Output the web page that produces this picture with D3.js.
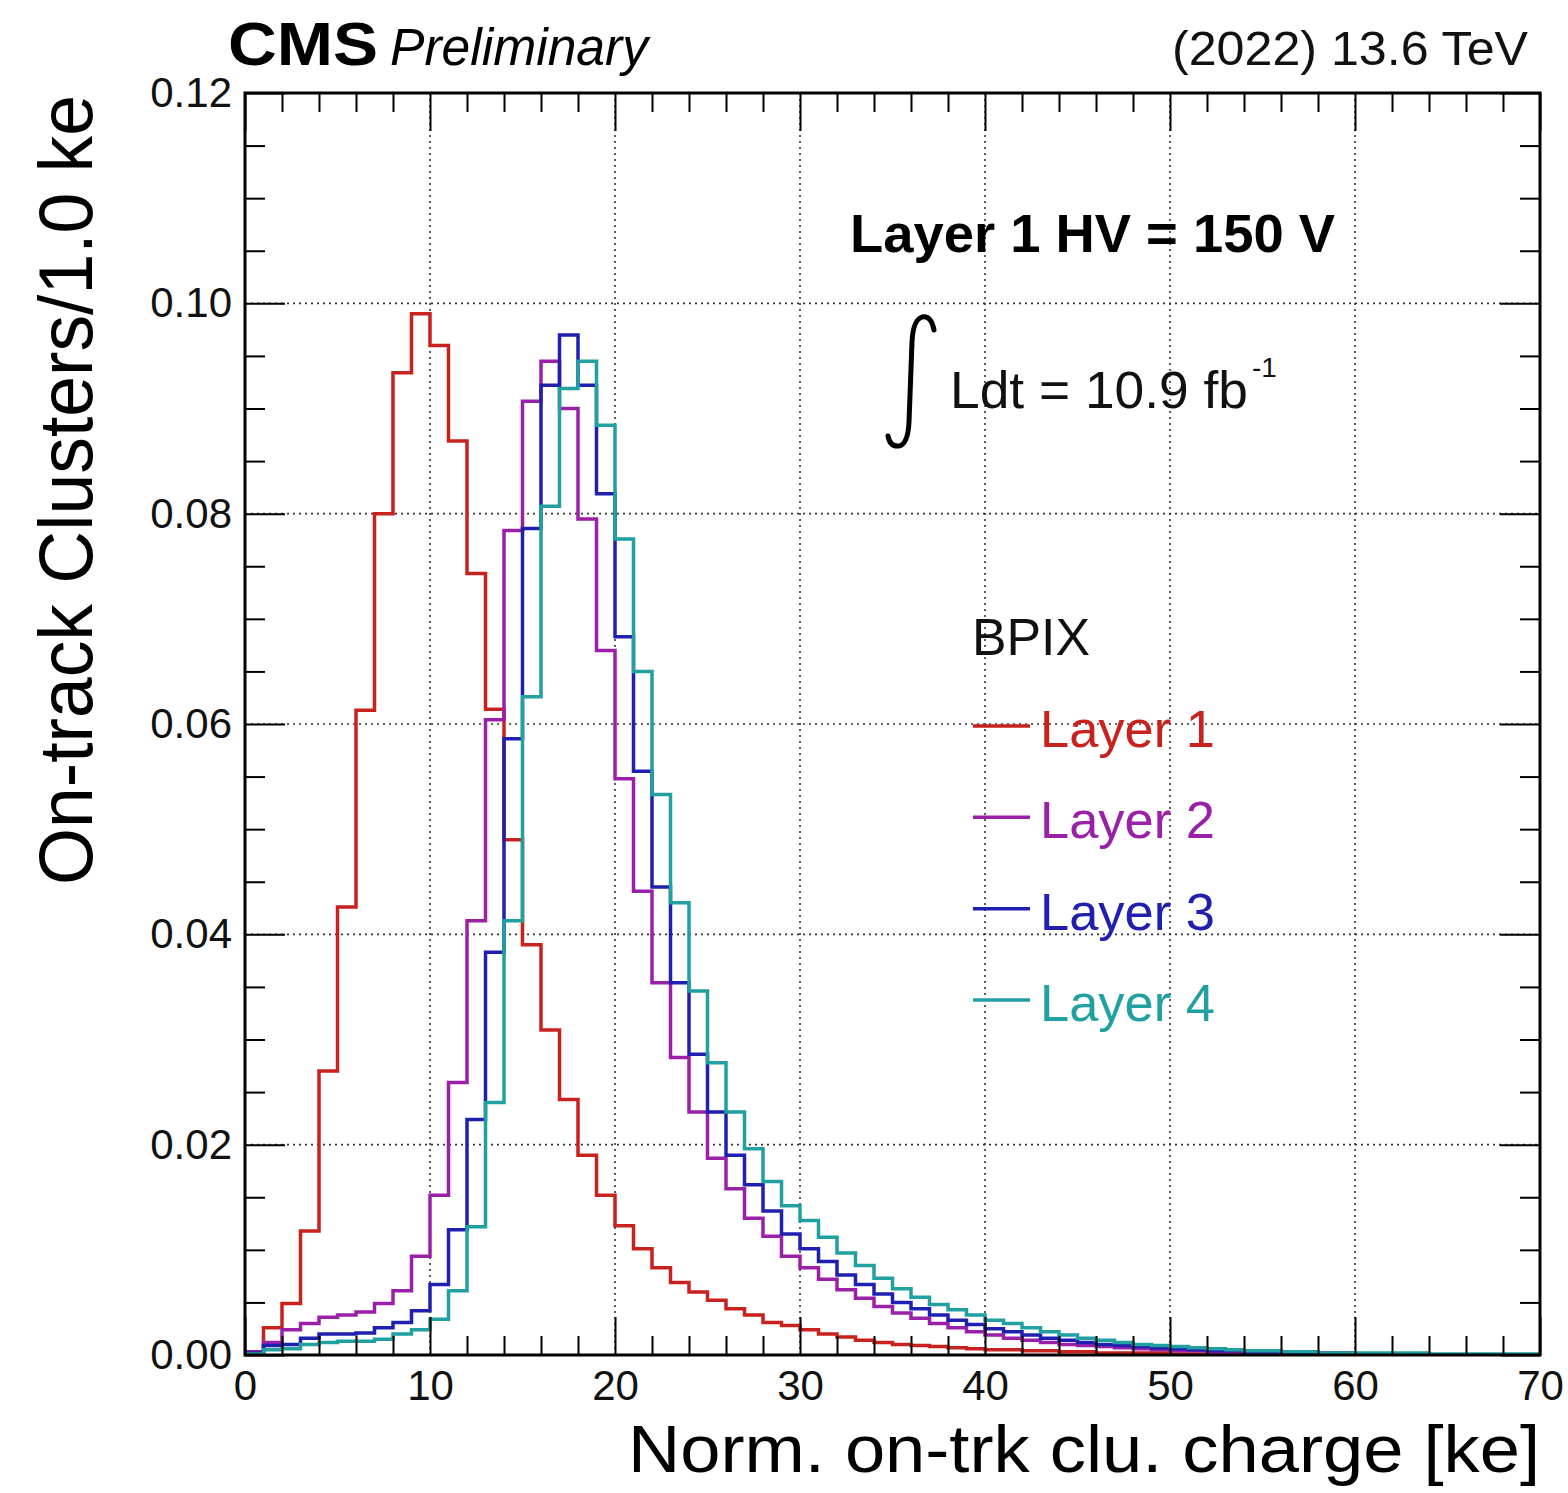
<!DOCTYPE html>
<html>
<head>
<meta charset="utf-8">
<script src="https://cdn.jsdelivr.net/npm/d3@7"></script>
<style>
  html, body { margin: 0; padding: 0; background: #fff; }
  svg { display: block; font-family: "Liberation Sans", Arial, Helvetica, sans-serif; }
</style>
</head>
<body>
<svg id="chart" width="1568" height="1493"></svg>
<script>
// bin contents, 1 ke bins from 0 to 70 ke
const layer1 = [0.0002, 0.0026, 0.0049, 0.0118, 0.0270, 0.0426, 0.0613, 0.0800, 0.0934, 0.0990,
  0.0960, 0.0869, 0.0743, 0.0614, 0.0490, 0.0390, 0.0309, 0.0243, 0.0190, 0.0152,
  0.0123, 0.0101, 0.0083, 0.0069, 0.0060, 0.0052, 0.0044, 0.0038, 0.0031, 0.0028,
  0.0024, 0.0020, 0.0017, 0.0014, 0.0012, 0.0010, 0.0009, 0.0008, 0.0007, 0.0006,
  0.0005, 0.0005, 0.0004, 0.0004, 0.0003, 0.0003, 0.0002, 0.0002, 0.0002, 0.0002,
  0.0001, 0.0001, 0.0001, 0.0001, 0.0001, 0.0001, 0, 0, 0, 0,
  0, 0, 0, 0, 0, 0, 0, 0, 0, 0];
const layer2 = [0.0003, 0.0012, 0.0024, 0.0030, 0.0036, 0.0038, 0.0041, 0.0049, 0.0061, 0.0094,
  0.0152, 0.0259, 0.0413, 0.0604, 0.0784, 0.0907, 0.0945, 0.0900, 0.0795, 0.0670,
  0.0548, 0.0441, 0.0354, 0.0283, 0.0231, 0.0187, 0.0158, 0.0130, 0.0113, 0.0094,
  0.0083, 0.0072, 0.0062, 0.0054, 0.0046, 0.0040, 0.0035, 0.0030, 0.0026, 0.0022,
  0.0019, 0.0016, 0.0014, 0.0012, 0.0010, 0.0009, 0.0008, 0.0007, 0.0006, 0.0005,
  0.0004, 0.0004, 0.0003, 0.0003, 0.0002, 0.0002, 0.0002, 0.0001, 0.0001, 0.0001,
  0.0001, 0.0001, 0, 0, 0, 0, 0, 0, 0, 0];
const layer3 = [0.0002, 0.0009, 0.0010, 0.0016, 0.0020, 0.0020, 0.0021, 0.0026, 0.0031, 0.0042,
  0.0067, 0.0119, 0.0224, 0.0383, 0.0586, 0.0786, 0.0922, 0.0970, 0.0922, 0.0819,
  0.0683, 0.0555, 0.0445, 0.0354, 0.0286, 0.0231, 0.0190, 0.0162, 0.0137, 0.0115,
  0.0101, 0.0089, 0.0076, 0.0067, 0.0058, 0.0050, 0.0044, 0.0038, 0.0033, 0.0029,
  0.0025, 0.0022, 0.0019, 0.0016, 0.0014, 0.0012, 0.0010, 0.0009, 0.0008, 0.0007,
  0.0006, 0.0005, 0.0004, 0.0004, 0.0003, 0.0003, 0.0002, 0.0002, 0.0002, 0.0002,
  0.0001, 0.0001, 0.0001, 0.0001, 0, 0, 0, 0, 0, 0];
const layer4 = [0.0001, 0.0005, 0.0006, 0.0010, 0.0012, 0.0013, 0.0013, 0.0015, 0.0020, 0.0024,
  0.0034, 0.0061, 0.0122, 0.0240, 0.0413, 0.0626, 0.0807, 0.0919, 0.0945, 0.0884,
  0.0776, 0.0650, 0.0533, 0.0430, 0.0346, 0.0278, 0.0231, 0.0196, 0.0165, 0.0142,
  0.0128, 0.0112, 0.0097, 0.0085, 0.0073, 0.0063, 0.0055, 0.0048, 0.0043, 0.0038,
  0.0033, 0.0030, 0.0026, 0.0022, 0.0019, 0.0016, 0.0014, 0.0012, 0.0010, 0.0009,
  0.0008, 0.0007, 0.0006, 0.0005, 0.0004, 0.0004, 0.0003, 0.0003, 0.0002, 0.0002,
  0.0002, 0.0002, 0.0002, 0.0002, 0.0001, 0.0001, 0.0001, 0.0001, 0.0001, 0.0001];

const seriesNames = ["Layer 1", "Layer 2", "Layer 3", "Layer 4"];
const seriesColors = ["#c8221f", "#9a20a8", "#2020b0", "#20a0a0"];
const xMajorTicks = [0, 10, 20, 30, 40, 50, 60, 70];
const yMajorTicks = [0, 0.02, 0.04, 0.06, 0.08, 0.10, 0.12];

const series = [layer1, layer2, layer3, layer4];

const svg = d3.select("#chart");
const margin = { top: 93, right: 28, bottom: 138, left: 245 };
const width = 1568, height = 1493;
const x0 = margin.left, x1 = width - margin.right;
const y0 = height - margin.bottom, y1 = margin.top;

const x = d3.scaleLinear().domain([0, 70]).range([x0, x1]);
const y = d3.scaleLinear().domain([0, 0.12]).range([y0, y1]);

svg.append("rect").attr("width", width).attr("height", height).attr("fill", "#fff");

// dotted grid
const grid = svg.append("g").attr("stroke", "#333").attr("stroke-width", 1.6)
  .attr("stroke-dasharray", "2 4");
grid.selectAll("line.gx")
  .data(xMajorTicks.filter(d => d > 0 && d < 70))
  .join("line")
  .attr("x1", d => x(d)).attr("x2", d => x(d))
  .attr("y1", y0).attr("y2", y1);
grid.selectAll("line.gy")
  .data(yMajorTicks.filter(d => d > 0 && d < 0.12))
  .join("line")
  .attr("class", "gy")
  .attr("x1", x0).attr("x2", x1)
  .attr("y1", d => y(d)).attr("y2", d => y(d));

// histograms
svg.append("clipPath").attr("id", "plot-clip")
  .append("rect").attr("x", x0).attr("y", y1).attr("width", x1 - x0).attr("height", y0 - y1);

const line = d3.line()
  .x(d => x(d[0]))
  .y(d => y(d[1]))
  .curve(d3.curveStepAfter);

series.forEach((vals, i) => {
  const pts = vals.map((v, k) => [k, v]);
  pts.push([vals.length, vals[vals.length - 1]]);
  svg.append("path")
    .attr("clip-path", "url(#plot-clip)")
    .attr("d", line(pts))
    .attr("fill", "none")
    .attr("stroke", seriesColors[i])
    .attr("stroke-width", 3.5);
});

// axes with inward ticks on all four sides
const xMinor = d3.range(0, 71, 2);
const yMinor = d3.range(0, 0.1201, 0.005).map(d => +d.toFixed(3));
const isMajorX = d => d % 10 === 0;
const isMajorY = d => Math.abs(Math.round(d / 0.02) * 0.02 - d) < 1e-6;

function styleAxis(g, majorFn, majorLen, horizontal) {
  g.select(".domain").remove();
  g.selectAll(".tick line").attr("stroke", "#000").attr("stroke-width", 2);
  g.selectAll(".tick").filter(majorFn).select("line")
    .attr(horizontal ? "y2" : "x2", majorLen);
  g.selectAll(".tick text").filter(function () { return this.textContent === ""; }).remove();
  g.selectAll("text").attr("font-family", "Liberation Sans, Arial, sans-serif")
    .attr("font-size", 42).attr("fill", "#111");
}

const axB = svg.append("g").attr("transform", `translate(0,${y0})`)
  .call(d3.axisBottom(x).tickValues(xMinor).tickSizeInner(-19).tickSizeOuter(0).tickPadding(15)
    .tickFormat(d => isMajorX(d) ? d : ""));
styleAxis(axB, isMajorX, -38, true);

const axT = svg.append("g").attr("transform", `translate(0,${y1})`)
  .call(d3.axisTop(x).tickValues(xMinor).tickSizeInner(-19).tickSizeOuter(0).tickFormat(""));
styleAxis(axT, isMajorX, 38, true);

const axL = svg.append("g").attr("transform", `translate(${x0},0)`)
  .call(d3.axisLeft(y).tickValues(yMinor).tickSizeInner(-20).tickSizeOuter(0).tickPadding(13)
    .tickFormat(d => isMajorY(d) ? d3.format(".2f")(d) : ""));
styleAxis(axL, isMajorY, 40, false);

const axR = svg.append("g").attr("transform", `translate(${x1},0)`)
  .call(d3.axisRight(y).tickValues(yMinor).tickSizeInner(-20).tickSizeOuter(0).tickFormat(""));
styleAxis(axR, isMajorY, -40, false);

// frame
svg.append("rect")
  .attr("x", x0).attr("y", y1).attr("width", x1 - x0).attr("height", y0 - y1)
  .attr("fill", "none").attr("stroke", "#000").attr("stroke-width", 3);

// axis titles
svg.append("text")
  .attr("x", 1540).attr("y", 1472)
  .attr("text-anchor", "end")
  .attr("font-size", 66)
  .attr("textLength", 912).attr("lengthAdjust", "spacingAndGlyphs")
  .text("Norm. on-trk clu. charge [ke]");

svg.append("text")
  .attr("transform", "translate(92,95) rotate(-90)")
  .attr("text-anchor", "end")
  .attr("font-size", 76)
  .attr("textLength", 790).attr("lengthAdjust", "spacingAndGlyphs")
  .text("On-track Clusters/1.0 ke");

// header
svg.append("text")
  .attr("x", 228).attr("y", 65)
  .attr("font-size", 62).attr("font-weight", "bold")
  .attr("textLength", 150).attr("lengthAdjust", "spacingAndGlyphs")
  .text("CMS");
svg.append("text")
  .attr("x", 390).attr("y", 65)
  .attr("font-size", 51).attr("font-style", "italic")
  .attr("textLength", 258).attr("lengthAdjust", "spacingAndGlyphs")
  .text("Preliminary");
svg.append("text")
  .attr("x", 1528).attr("y", 65)
  .attr("text-anchor", "end")
  .attr("font-size", 48).attr("fill", "#111")
  .attr("textLength", 356).attr("lengthAdjust", "spacingAndGlyphs")
  .text("(2022) 13.6 TeV");

// annotations
svg.append("text")
  .attr("x", 850).attr("y", 252)
  .attr("font-size", 54).attr("font-weight", "bold")
  .attr("textLength", 485).attr("lengthAdjust", "spacingAndGlyphs")
  .text("Layer 1 HV = 150 V");

svg.append("path")
  .attr("d", "M934,330 Q931,315 922,317 Q913,320 912,342 L909,422 Q908,444 899,446 Q890,447 888,436")
  .attr("fill", "none").attr("stroke", "#000").attr("stroke-width", 5).attr("stroke-linecap", "round");
svg.append("text")
  .attr("x", 950).attr("y", 408)
  .attr("font-size", 52).attr("fill", "#111")
  .attr("textLength", 298).attr("lengthAdjust", "spacingAndGlyphs")
  .text("Ldt = 10.9 fb");
svg.append("text")
  .attr("x", 1252).attr("y", 377)
  .attr("font-size", 28).attr("fill", "#111")
  .text("-1");

// legend
svg.append("text")
  .attr("x", 972).attr("y", 655)
  .attr("font-size", 51).attr("fill", "#111")
  .attr("textLength", 118).attr("lengthAdjust", "spacingAndGlyphs")
  .text("BPIX");

const legend = svg.append("g");
const legendY = d3.scalePoint().domain(seriesNames).range([726, 1000]);
seriesNames.forEach((name, i) => {
  const ly = legendY(name);
  legend.append("line")
    .attr("x1", 973).attr("x2", 1030).attr("y1", ly).attr("y2", ly)
    .attr("stroke", seriesColors[i]).attr("stroke-width", 3.5);
  legend.append("text")
    .attr("x", 1040).attr("y", ly + 21)
    .attr("font-size", 52).attr("fill", seriesColors[i])
    .attr("textLength", 175).attr("lengthAdjust", "spacingAndGlyphs")
    .text(name);
});
</script>
</body>
</html>
